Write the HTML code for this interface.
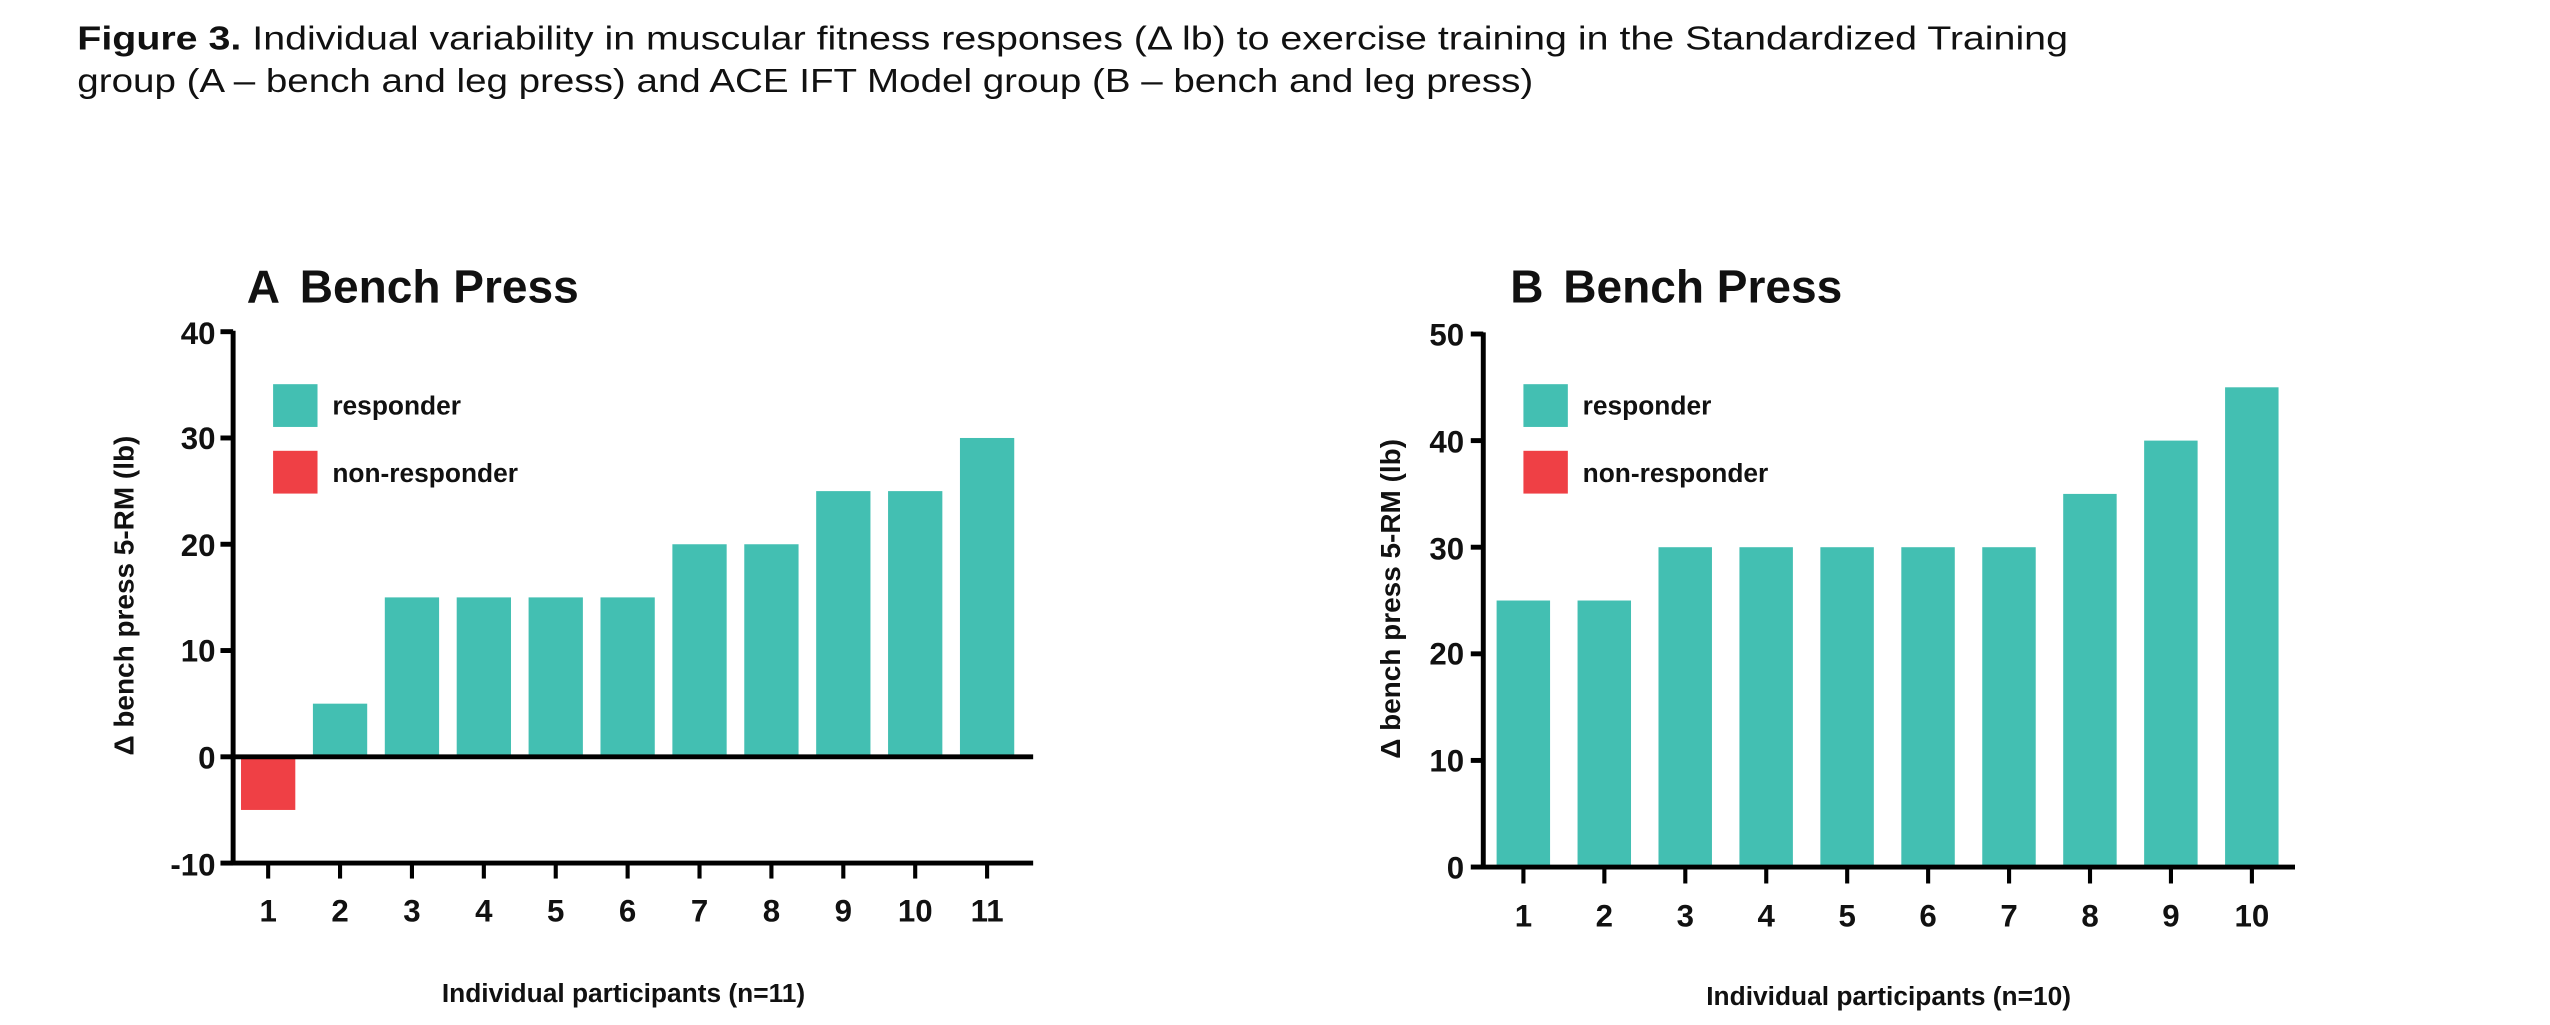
<!DOCTYPE html>
<html><head><meta charset="utf-8"><style>
html,body{margin:0;padding:0;background:#fff;}
svg{display:block;}
text{font-family:"Liberation Sans",Arial,sans-serif;}
</style></head><body>
<svg width="2550" height="1025" viewBox="0 0 1550 623" xmlns="http://www.w3.org/2000/svg">
<rect width="1550" height="623" fill="#fff"/>
<text x="47" y="30" font-size="20" fill="#111" textLength="1210" lengthAdjust="spacingAndGlyphs"><tspan font-weight="bold">Figure 3.</tspan> Individual variability in muscular fitness responses (Δ lb) to exercise training in the Standardized Training</text>
<text x="47" y="56" font-size="20" fill="#111" textLength="885" lengthAdjust="spacingAndGlyphs">group (A – bench and leg press) and ACE IFT Model group (B – bench and leg press)</text>

<!-- Chart A -->
<g>
<text x="150" y="184" font-size="28" font-weight="bold" fill="#111">A<tspan dx="12">Bench Press</tspan></text>
<g fill="#43BFB2">
<rect x="190.2" y="427.7" width="33" height="32.3"/>
<rect x="233.9" y="363.1" width="33" height="96.9"/>
<rect x="277.6" y="363.1" width="33" height="96.9"/>
<rect x="321.3" y="363.1" width="33" height="96.9"/>
<rect x="365" y="363.1" width="33" height="96.9"/>
<rect x="408.7" y="330.8" width="33" height="129.2"/>
<rect x="452.4" y="330.8" width="33" height="129.2"/>
<rect x="496.1" y="298.5" width="33" height="161.5"/>
<rect x="539.8" y="298.5" width="33" height="161.5"/>
<rect x="583.5" y="266.2" width="33" height="193.8"/>
</g>
<rect x="146.5" y="460" width="33" height="32.3" fill="#EF4045"/>
<g stroke="#000" stroke-width="3" fill="none">
<line x1="141.7" y1="201" x2="141.7" y2="526"/>
<line x1="140" y1="524.6" x2="628" y2="524.6"/>
<line x1="140" y1="460" x2="628" y2="460"/>
<line x1="134" y1="201.6" x2="141.7" y2="201.6"/>
<line x1="134" y1="266.2" x2="141.7" y2="266.2"/>
<line x1="134" y1="330.8" x2="141.7" y2="330.8"/>
<line x1="134" y1="395.4" x2="141.7" y2="395.4"/>
<line x1="134" y1="460" x2="141.7" y2="460"/>
<line x1="134" y1="524.6" x2="141.7" y2="524.6"/>
</g>
<g stroke="#000" stroke-width="2.5">
<line x1="163" y1="525" x2="163" y2="534"/><line x1="206.7" y1="525" x2="206.7" y2="534"/><line x1="250.4" y1="525" x2="250.4" y2="534"/><line x1="294.1" y1="525" x2="294.1" y2="534"/><line x1="337.8" y1="525" x2="337.8" y2="534"/><line x1="381.5" y1="525" x2="381.5" y2="534"/><line x1="425.2" y1="525" x2="425.2" y2="534"/><line x1="468.9" y1="525" x2="468.9" y2="534"/><line x1="512.6" y1="525" x2="512.6" y2="534"/><line x1="556.3" y1="525" x2="556.3" y2="534"/><line x1="600" y1="525" x2="600" y2="534"/>
</g>
<g font-size="19" font-weight="bold" fill="#111" text-anchor="end">
<text x="131" y="209">40</text><text x="131" y="273">30</text><text x="131" y="338">20</text><text x="131" y="402">10</text><text x="131" y="467">0</text><text x="131" y="532">-10</text>
</g>
<g font-size="19" font-weight="bold" fill="#111" text-anchor="middle">
<text x="163" y="560">1</text><text x="206.7" y="560">2</text><text x="250.4" y="560">3</text><text x="294.1" y="560">4</text><text x="337.8" y="560">5</text><text x="381.5" y="560">6</text><text x="425.2" y="560">7</text><text x="468.9" y="560">8</text><text x="512.6" y="560">9</text><text x="556.3" y="560">10</text><text x="600" y="560">11</text>
</g>
<rect x="166" y="233.5" width="27" height="26" fill="#43BFB2"/>
<rect x="166" y="274" width="27" height="26" fill="#EF4045"/>
<text x="202" y="252" font-size="16" font-weight="bold" fill="#111">responder</text>
<text x="202" y="293" font-size="16" font-weight="bold" fill="#111">non-responder</text>
<text transform="translate(81,362) rotate(-90)" font-size="17" font-weight="bold" fill="#111" text-anchor="middle">Δ bench press 5-RM (lb)</text>
<text x="379" y="609" font-size="16" font-weight="bold" fill="#111" text-anchor="middle">Individual participants (n=11)</text>
</g>

<!-- Chart B -->
<g>
<text x="918" y="184" font-size="28" font-weight="bold" fill="#111">B<tspan dx="12">Bench Press</tspan></text>
<g fill="#43BFB2">
<rect x="909.7" y="365" width="32.5" height="162"/>
<rect x="958.9" y="365" width="32.5" height="162"/>
<rect x="1008.1" y="332.6" width="32.5" height="194.4"/>
<rect x="1057.3" y="332.6" width="32.5" height="194.4"/>
<rect x="1106.5" y="332.6" width="32.5" height="194.4"/>
<rect x="1155.7" y="332.6" width="32.5" height="194.4"/>
<rect x="1204.9" y="332.6" width="32.5" height="194.4"/>
<rect x="1254.1" y="300.2" width="32.5" height="226.8"/>
<rect x="1303.3" y="267.8" width="32.5" height="259.2"/>
<rect x="1352.5" y="235.4" width="32.5" height="291.6"/>
</g>
<g stroke="#000" stroke-width="3" fill="none">
<line x1="901.6" y1="202" x2="901.6" y2="528"/>
<line x1="900" y1="527" x2="1395" y2="527"/>
<line x1="894" y1="203" x2="901.6" y2="203"/>
<line x1="894" y1="267.8" x2="901.6" y2="267.8"/>
<line x1="894" y1="332.6" x2="901.6" y2="332.6"/>
<line x1="894" y1="397.4" x2="901.6" y2="397.4"/>
<line x1="894" y1="462.2" x2="901.6" y2="462.2"/>
<line x1="894" y1="527" x2="901.6" y2="527"/>
</g>
<g stroke="#000" stroke-width="2.5">
<line x1="926" y1="528" x2="926" y2="537"/><line x1="975.2" y1="528" x2="975.2" y2="537"/><line x1="1024.4" y1="528" x2="1024.4" y2="537"/><line x1="1073.6" y1="528" x2="1073.6" y2="537"/><line x1="1122.8" y1="528" x2="1122.8" y2="537"/><line x1="1172" y1="528" x2="1172" y2="537"/><line x1="1221.2" y1="528" x2="1221.2" y2="537"/><line x1="1270.4" y1="528" x2="1270.4" y2="537"/><line x1="1319.6" y1="528" x2="1319.6" y2="537"/><line x1="1368.8" y1="528" x2="1368.8" y2="537"/>
</g>
<g font-size="19" font-weight="bold" fill="#111" text-anchor="end">
<text x="890" y="210">50</text><text x="890" y="275">40</text><text x="890" y="340">30</text><text x="890" y="404">20</text><text x="890" y="469">10</text><text x="890" y="534">0</text>
</g>
<g font-size="19" font-weight="bold" fill="#111" text-anchor="middle">
<text x="926" y="563">1</text><text x="975.2" y="563">2</text><text x="1024.4" y="563">3</text><text x="1073.6" y="563">4</text><text x="1122.8" y="563">5</text><text x="1172" y="563">6</text><text x="1221.2" y="563">7</text><text x="1270.4" y="563">8</text><text x="1319.6" y="563">9</text><text x="1368.8" y="563">10</text>
</g>
<rect x="926" y="233.5" width="27" height="26" fill="#43BFB2"/>
<rect x="926" y="274" width="27" height="26" fill="#EF4045"/>
<text x="962" y="252" font-size="16" font-weight="bold" fill="#111">responder</text>
<text x="962" y="293" font-size="16" font-weight="bold" fill="#111">non-responder</text>
<text transform="translate(851,364) rotate(-90)" font-size="17" font-weight="bold" fill="#111" text-anchor="middle">Δ bench press 5-RM (lb)</text>
<text x="1148" y="611" font-size="16" font-weight="bold" fill="#111" text-anchor="middle">Individual participants (n=10)</text>
</g>
</svg>
</body></html>
